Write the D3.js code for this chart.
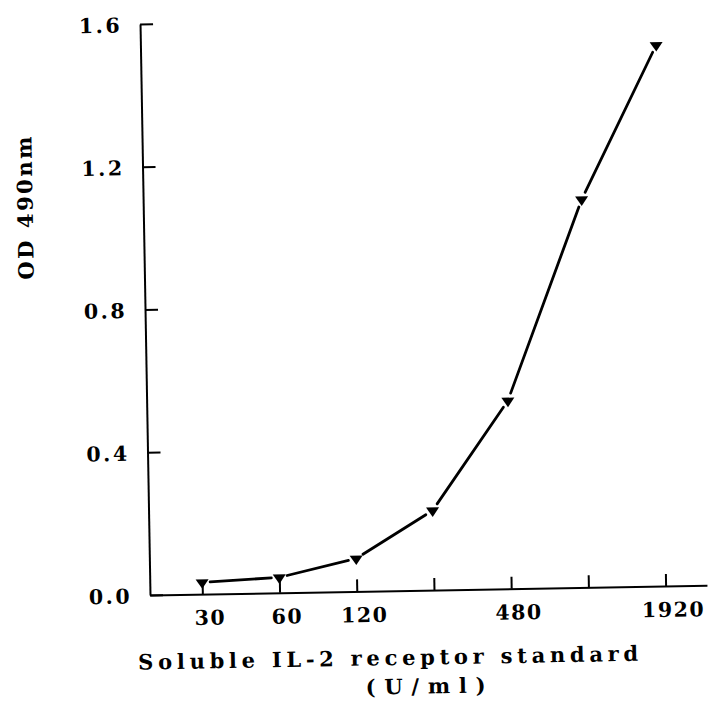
<!DOCTYPE html>
<html>
<head>
<meta charset="utf-8">
<script src="https://cdn.jsdelivr.net/npm/d3@7"></script>
<style>
  body { margin: 0; background: #fff; }
  svg { display: block; }
</style>
</head>
<body>
<div id="wrapper"></div>
<script>
// standard curve: sIL-2R concentration (U/ml) vs OD at 490 nm
const concentrations = [30, 60, 120, 240, 480, 960, 1920];
const odValues = [0.033, 0.043, 0.092, 0.223, 0.527, 1.087, 1.516];
const xTickLabels = ["30", "60", "120", "", "480", "", "1920"];
const yTicks = [0.0, 0.4, 0.8, 1.2, 1.6];

const width = 709, height = 710;
const origin = {x: 150, y: 595};
const plotW = 557, plotH = 571;
const labelFont = "DejaVu Serif";

var svg = d3.select("#wrapper")
  .append("svg")
    .attr("width", width)
    .attr("height", height);

// the whole plot sits slightly tilted, like the printed page
var g = svg.append("g")
    .attr("transform", "translate(" + origin.x + "," + origin.y + ") rotate(-1)");

var x = d3.scaleLog()
  .base(2)
  .domain([18.75, 2782])
  .range([0, plotW]);

var y = d3.scaleLinear()
  .domain([0, 1.6])
  .range([0, -plotH]);

function boldText(sel, size) {
  sel.attr("font-family", labelFont)
     .attr("font-weight", "bold")
     .attr("font-size", size)
     .attr("fill", "#000");
}

/* x axis, ticks pointing up into the plot */
var xAxis = g.append("g")
  .call(d3.axisBottom(x)
    .tickValues(concentrations)
    .tickSize(-12)
    .tickSizeOuter(0)
    .tickFormat((d, i) => xTickLabels[i]));

xAxis.selectAll("text")
    .call(boldText, 20.5)
    .attr("y", 23.5)
    .attr("dy", "0.36em")
    .attr("dx", 7)
    .attr("letter-spacing", 1.5);

/* y axis, ticks pointing right */
var yAxis = g.append("g")
  .call(d3.axisLeft(y)
    .tickValues(yTicks)
    .tickSize(-13)
    .tickSizeOuter(0)
    .tickFormat(d3.format(".1f")));

yAxis.selectAll("text")
    .call(boldText, 20.5)
    .attr("x", -18)
    .attr("dy", "0.37em")
    .attr("letter-spacing", 2.5);

g.selectAll(".domain, .tick line")
    .attr("stroke", "#000")
    .attr("stroke-width", 2);

/* data line: segments stop short of each marker */
var pts = concentrations.map((c, i) => [x(c), y(odValues[i])]);
var gap = 8;
var segs = d3.pairs(pts).map(function(p) {
  var dx = p[1][0] - p[0][0], dy = p[1][1] - p[0][1];
  var len = Math.sqrt(dx * dx + dy * dy);
  var ux = dx / len, uy = dy / len;
  return [p[0][0] + ux * gap, p[0][1] + uy * gap, p[1][0] - ux * gap, p[1][1] - uy * gap];
});

g.selectAll("line.seg")
  .data(segs)
  .enter()
  .append("line")
    .attr("class", "seg")
    .attr("x1", d => d[0])
    .attr("y1", d => d[1])
    .attr("x2", d => d[2])
    .attr("y2", d => d[3])
    .attr("stroke", "#000")
    .attr("stroke-width", 2.8)
    .attr("stroke-linecap", "round");

// downward triangles
g.selectAll("path.marker")
  .data(concentrations)
  .enter()
  .append("path")
    .attr("class", "marker")
    .attr("d", "M-6.5,-3L6.5,-3L0,6.5Z")
    .attr("transform", (d, i) => "translate(" + x(d) + "," + y(odValues[i]) + ")")
    .attr("fill", "#000");

/* axis titles */
g.append("text")
    .call(boldText, 21)
    .attr("x", 237)
    .attr("y", 67)
    .attr("dy", "0.35em")
    .attr("text-anchor", "middle")
    .attr("textLength", 500)
    .attr("lengthAdjust", "spacing")
    .text("Soluble IL-2 receptor standard");

g.append("text")
    .call(boldText, 21)
    .attr("x", 274)
    .attr("y", 96)
    .attr("dy", "0.35em")
    .attr("text-anchor", "middle")
    .attr("textLength", 120)
    .attr("lengthAdjust", "spacing")
    .text("(U/ml)");

g.append("text")
    .call(boldText, 21)
    .attr("transform", "translate(-118,-389) rotate(-90)")
    .attr("dy", "0.35em")
    .attr("text-anchor", "middle")
    .attr("textLength", 143)
    .attr("lengthAdjust", "spacing")
    .text("OD 490nm");
</script>
</body>
</html>
